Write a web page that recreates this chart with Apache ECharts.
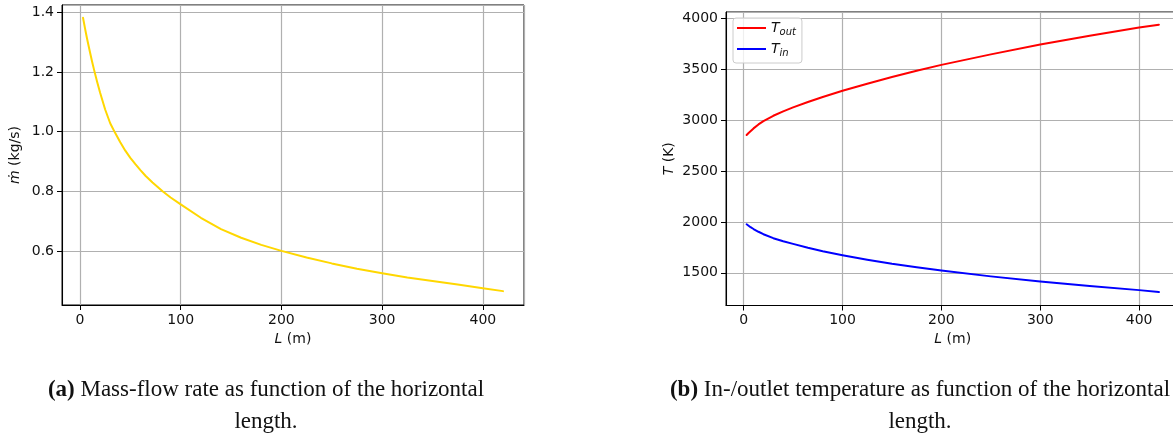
<!DOCTYPE html>
<html>
<head>
<meta charset="utf-8">
<script src="https://cdn.jsdelivr.net/npm/echarts@6/dist/echarts.min.js"></script>
<style>
  html, body { margin: 0; padding: 0; background: #fff; overflow: hidden; }
  #chart { width: 1180px; height: 434px; }
</style>
</head>
<body>
<div id="chart"></div>
<script>
// Horizontal length (m) and mass-flow rate (kg/s)
const L_MASS = [3, 4, 5, 6, 7, 8, 10, 12, 14, 17, 20, 25, 30, 35, 40, 45, 50, 55, 60, 65, 72, 82, 90, 100, 120, 140, 160, 180, 200, 225, 250, 275, 300, 325, 350, 375, 400, 420];
const MASS_FLOW = [1.382, 1.364, 1.346, 1.329, 1.312, 1.296, 1.265, 1.235, 1.207, 1.167, 1.130, 1.074, 1.028, 0.995, 0.964, 0.936, 0.912, 0.891, 0.871, 0.852, 0.829, 0.800, 0.779, 0.756, 0.711, 0.673, 0.644, 0.620, 0.600, 0.578, 0.558, 0.540, 0.525, 0.511, 0.499, 0.487, 0.475, 0.465];

// Horizontal length (m) and in-/outlet temperatures (K)
const L_TEMP = [3, 5, 7, 10, 15, 20, 30, 40, 50, 65, 80, 100, 125, 150, 175, 200, 250, 300, 350, 400, 420];
const T_OUT = [2853, 2873, 2892, 2918, 2957, 2990, 3042, 3085, 3124, 3177, 3227, 3287, 3357, 3422, 3484, 3542, 3645, 3742, 3828, 3908, 3936];
const T_IN = [1977, 1962, 1948, 1930, 1903, 1879, 1840, 1810, 1784, 1746, 1712, 1673, 1629, 1589, 1555, 1523, 1465, 1414, 1370, 1330, 1311];

const SERIES_NAMES = ['Tout', 'Tin'];
const CAPTION_A = ['(a)', ' Mass-flow rate as function of the horizontal', 'length.'];
const CAPTION_B = ['(b)', ' In-/outlet temperature as function of the horizontal', 'length.'];

const SANS = 'DejaVu Sans';
const SERIF = 'Liberation Serif';
const TXT = '#111';
const TICK_FONT = 14;

const pairs = (xs, ys) => xs.map((x, i) => [x, ys[i]]);

function valueAxis(gridIndex, min, max, extra, labelFormatter) {
  return Object.assign({
    type: 'value',
    gridIndex: gridIndex,
    min: min,
    max: max,
    splitNumber: 5,
    axisLine: { show: true, onZero: false, lineStyle: { color: '#000', width: 1 } },
    axisTick: { show: true, inside: false, length: 5, lineStyle: { color: '#000', width: 1 } },
    axisLabel: {
      show: true, color: TXT, fontSize: TICK_FONT, fontFamily: SANS, margin: 8,
      showMinLabel: false, showMaxLabel: false,
      formatter: labelFormatter || (v => String(v))
    },
    splitLine: { show: true, lineStyle: { color: '#b0b0b0', width: 1.2 } },
    nameLocation: 'middle',
    nameTextStyle: {
      color: TXT, fontSize: TICK_FONT, fontFamily: SANS,
      rich: { i: { fontStyle: 'italic', color: TXT, fontSize: TICK_FONT, fontFamily: SANS } }
    }
  }, extra || {});
}

const chart = echarts.init(document.getElementById('chart'), null, { renderer: 'canvas' });

const captionRich = {
  b: { fontFamily: SERIF, fontWeight: 'bold', fontSize: 23, fill: TXT },
  r: { fontFamily: SERIF, fontSize: 23, fill: TXT }
};

chart.setOption({
  animation: false,
  backgroundColor: '#fff',
  grid: [
    { left: 62, top: 5, width: 462, height: 300, show: true, borderColor: '#000', borderWidth: 1, containLabel: false },
    { left: 726, top: 12, width: 453.5, height: 293.5, show: true, borderColor: '#000', borderWidth: 1, containLabel: false }
  ],
  xAxis: [
    valueAxis(0, -17.85, 440.85, { name: '{i|L} (m)', nameGap: 27 }),
    valueAxis(1, -17.85, 440.85, { name: '{i|L} (m)', nameGap: 27 })
  ],
  yAxis: [
    valueAxis(0, 0.4185, 1.4245, { name: '{i|ṁ} (kg/s)', nameGap: 40 }, v => v.toFixed(1)),
    valueAxis(1, 1179, 4061, { name: '{i|T} (K)', nameGap: 50 })
  ],
  legend: {
    show: true,
    data: SERIES_NAMES,
    left: 733,
    top: 18,
    orient: 'vertical',
    icon: 'rect',
    itemWidth: 29,
    itemHeight: 2,
    itemGap: 5,
    padding: [3, 6, 5, 4],
    backgroundColor: 'rgba(255,255,255,0.8)',
    borderColor: '#cccccc',
    borderWidth: 1,
    borderRadius: 3,
    formatter: name => name === 'Tout' ? '{t|T}{s|out}' : '{t|T}{s|in}',
    textStyle: {
      color: TXT,
      rich: {
        t: { fontStyle: 'italic', fontSize: 14, fontFamily: SANS, color: TXT },
        s: { fontStyle: 'italic', fontSize: 10, fontFamily: SANS, color: TXT, padding: [8, 0, 0, 0] }
      }
    }
  },
  series: [
    {
      name: 'mdot', type: 'line', xAxisIndex: 0, yAxisIndex: 0,
      data: pairs(L_MASS, MASS_FLOW), showSymbol: false, smooth: false,
      lineStyle: { color: '#FFD700', width: 2, join: 'round', cap: 'round' }, itemStyle: { color: '#FFD700' }
    },
    {
      name: SERIES_NAMES[0], type: 'line', xAxisIndex: 1, yAxisIndex: 1,
      data: pairs(L_TEMP, T_OUT), showSymbol: false, smooth: false,
      lineStyle: { color: '#FF0000', width: 2, join: 'round', cap: 'round' }, itemStyle: { color: '#FF0000' }
    },
    {
      name: SERIES_NAMES[1], type: 'line', xAxisIndex: 1, yAxisIndex: 1,
      data: pairs(L_TEMP, T_IN), showSymbol: false, smooth: false,
      lineStyle: { color: '#0000FF', width: 2, join: 'round', cap: 'round' }, itemStyle: { color: '#0000FF' }
    }
  ],
  graphic: [
    {
      type: 'text', x: 266, y: 390,
      style: {
        text: '{b|' + CAPTION_A[0] + '}{r|' + CAPTION_A[1] + '}',
        align: 'center', verticalAlign: 'middle', rich: captionRich
      }
    },
    {
      type: 'text', x: 266, y: 422,
      style: { text: CAPTION_A[2], align: 'center', verticalAlign: 'middle', fontFamily: SERIF, fontSize: 23, fill: TXT }
    },
    {
      type: 'text', x: 920, y: 390,
      style: {
        text: '{b|' + CAPTION_B[0] + '}{r|' + CAPTION_B[1] + '}',
        align: 'center', verticalAlign: 'middle', rich: captionRich
      }
    },
    {
      type: 'text', x: 920, y: 422,
      style: { text: CAPTION_B[2], align: 'center', verticalAlign: 'middle', fontFamily: SERIF, fontSize: 23, fill: TXT }
    }
  ]
});
</script>
</body>
</html>
